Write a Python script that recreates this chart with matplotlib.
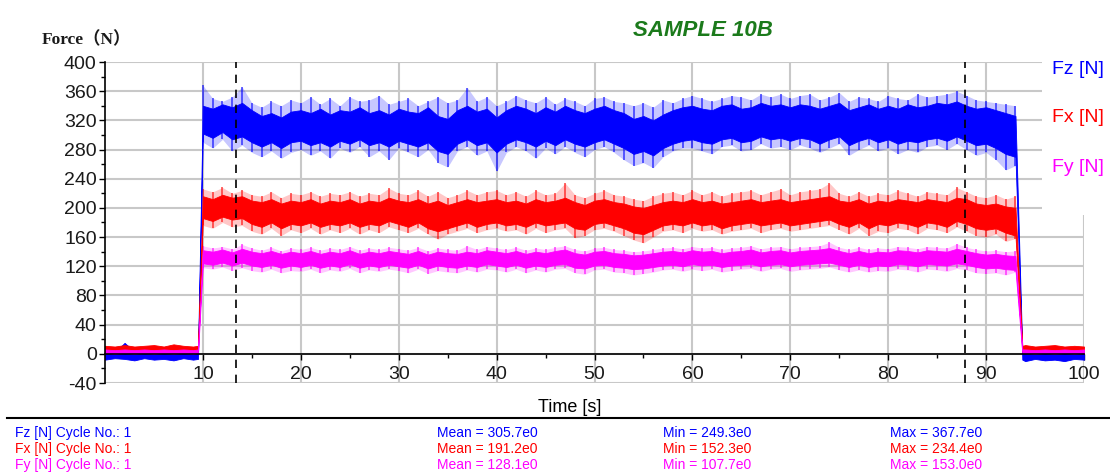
import numpy as np
import matplotlib
matplotlib.use("Agg")
import matplotlib.pyplot as plt
from matplotlib.patches import Rectangle
from matplotlib.ticker import MultipleLocator, FixedLocator

plt.rcParams['font.family'] = ['Liberation Sans', 'DejaVu Sans']
plt.rcParams['axes.unicode_minus'] = False

# sample times (s): idle, ramp up, loaded (1 s steps), ramp down, idle
t_pre = [0, 1, 2, 3, 4, 5, 6, 7, 8, 9, 9.5]
t_load = list(range(10, 94))
t_post = [93.7, 94, 95, 96, 97, 98, 99, 100]

# idle levels (N), hi / lo envelopes
fz_pre_hi = [3, 2, 15, 3, 2, 4, 3, 2, 3, 2, 3]
fz_pre_lo = [-8, -6, -7, -9, -6, -8, -7, -9, -6, -8, -7]
fx_pre_hi = [11, 10, 12, 10, 11, 12, 10, 13, 11, 10, 11]
fx_pre_lo = [4, 3, 4, 3, 4, 3, 4, 3, 4, 3, 4]
fy_pre_hi = [6, 5, 6, 5, 6, 5, 6, 5, 6, 5, 6]
fy_pre_lo = [1, 0, 1, 0, 1, 0, 1, 0, 1, 0, 1]

fz_post_hi = [3, 4, 2, 5, 3, 4, 2, 3]
fz_post_lo = [-8, -10, -7, -9, -8, -10, -7, -8]
fx_post_hi = [11, 12, 10, 11, 12, 10, 11, 10]
fx_post_lo = [3, 4, 3, 4, 3, 4, 3, 4]
fy_post_hi = [6, 6, 5, 6, 5, 6, 5, 6]
fy_post_lo = [1, 1, 0, 1, 0, 1, 0, 1]

# loaded phase, 10..93 s: peak envelope and dense core band
fz_hi = [368, 350, 346, 352, 366, 344, 338, 346, 340, 348,
         344, 352, 342, 350, 340, 352, 346, 348, 354, 342,
         346, 350, 340, 346, 352, 344, 348, 365, 346, 352,
         340, 346, 354, 348, 344, 352, 342, 350, 346, 340,
         350, 352, 346, 344, 340, 344, 338, 348, 344, 350,
         354, 350, 346, 350, 354, 352, 348, 356, 352, 356,
         350, 354, 356, 348, 352, 358, 346, 352, 350, 346,
         354, 350, 348, 356, 352, 354, 356, 360, 354, 348,
         346, 344, 342, 340]
fz_lo = [290, 282, 294, 278, 286, 276, 270, 278, 268, 276,
         280, 272, 278, 268, 282, 276, 284, 270, 278, 266,
         282, 276, 270, 280, 262, 256, 278, 284, 272, 278,
         250, 276, 284, 278, 268, 282, 274, 284, 276, 270,
         280, 284, 276, 266, 258, 262, 255, 270, 278, 282,
         282, 278, 274, 284, 286, 278, 280, 288, 282, 284,
         280, 286, 282, 276, 282, 288, 272, 280, 286, 278,
         282, 274, 280, 276, 284, 286, 280, 288, 280, 272,
         276, 266, 252, 258]
fz_core_hi = [340, 336, 342, 338, 344, 334, 326, 330, 324, 332,
              334, 330, 336, 328, 334, 332, 338, 330, 334, 328,
              336, 332, 330, 338, 326, 322, 334, 340, 332, 336,
              324, 334, 340, 336, 330, 338, 332, 340, 334, 330,
              336, 340, 334, 330, 322, 326, 320, 328, 334, 338,
              340, 336, 334, 340, 342, 336, 338, 344, 340, 342,
              338, 342, 340, 336, 340, 344, 334, 338, 342, 336,
              340, 336, 342, 338, 340, 344, 342, 346, 340, 336,
              338, 334, 330, 326]
fz_core_lo = [302, 296, 304, 294, 298, 290, 284, 290, 282, 290,
              292, 286, 290, 284, 292, 288, 294, 286, 290, 284,
              292, 288, 284, 290, 278, 274, 288, 294, 286, 290,
              276, 288, 294, 290, 284, 292, 286, 294, 288, 284,
              290, 294, 288, 282, 274, 278, 272, 282, 288, 292,
              294, 290, 288, 294, 296, 290, 292, 298, 294, 296,
              292, 296, 294, 288, 294, 298, 286, 292, 296, 290,
              294, 288, 292, 290, 294, 296, 292, 298, 292, 286,
              288, 282, 274, 270]

fx_hi = [226, 222, 228, 220, 224, 218, 216, 222, 214, 220,
         218, 222, 216, 220, 218, 222, 216, 220, 218, 227,
         220, 218, 224, 216, 222, 214, 218, 224, 218, 222,
         224, 218, 222, 216, 224, 218, 220, 234, 218, 214,
         220, 224, 218, 216, 212, 210, 216, 220, 222, 218,
         224, 218, 222, 216, 220, 222, 224, 218, 222, 226,
         218, 222, 224, 226, 234, 220, 216, 222, 216, 220,
         218, 224, 220, 216, 222, 220, 218, 228, 222, 216,
         214, 218, 212, 216]
fx_lo = [176, 172, 180, 174, 176, 168, 164, 172, 162, 170,
         166, 172, 164, 170, 166, 172, 164, 170, 166, 174,
         170, 166, 172, 164, 157, 164, 168, 172, 166, 170,
         172, 168, 170, 164, 172, 166, 170, 172, 159, 162,
         170, 172, 168, 162, 156, 152, 160, 168, 170, 166,
         172, 168, 170, 164, 168, 170, 172, 166, 170, 172,
         168, 170, 172, 174, 176, 170, 164, 172, 162, 168,
         166, 172, 170, 164, 172, 170, 166, 174, 168, 162,
         160, 164, 154, 158]
fx_core_hi = [216, 212, 218, 214, 216, 210, 208, 212, 206, 210,
              208, 212, 206, 210, 208, 212, 206, 210, 208, 214,
              210, 208, 212, 206, 210, 204, 208, 212, 208, 210,
              212, 208, 210, 206, 212, 208, 210, 214, 208, 204,
              210, 212, 208, 206, 202, 200, 204, 208, 210, 208,
              212, 208, 210, 206, 208, 210, 212, 208, 210, 212,
              208, 210, 212, 214, 216, 210, 208, 212, 206, 210,
              208, 212, 210, 208, 212, 210, 208, 214, 212, 206,
              204, 206, 202, 200]
fx_core_lo = [186, 182, 188, 184, 186, 178, 174, 180, 172, 178,
              176, 180, 174, 178, 176, 180, 174, 178, 176, 182,
              178, 174, 180, 172, 168, 172, 176, 180, 174, 178,
              180, 176, 178, 174, 180, 176, 178, 180, 172, 170,
              178, 180, 176, 172, 166, 164, 170, 176, 178, 176,
              180, 176, 178, 172, 176, 178, 180, 176, 178, 180,
              176, 178, 180, 182, 184, 178, 174, 180, 172, 178,
              176, 180, 178, 174, 180, 178, 174, 182, 178, 172,
              170, 172, 166, 162]

fy_hi = [148, 145, 147, 144, 150, 145, 142, 146, 141, 145,
         143, 146, 142, 145, 143, 147, 142, 145, 143, 146,
         144, 142, 146, 141, 145, 143, 142, 148, 143, 147,
         145, 143, 146, 142, 145, 143, 146, 148, 143, 141,
         145, 146, 143, 142, 140, 141, 143, 145, 146, 144,
         147, 145, 146, 143, 145, 146, 148, 144, 146, 147,
         144, 146, 147, 148, 153, 146, 143, 146, 143, 145,
         144, 147, 146, 144, 147, 146, 145, 151, 146, 143,
         141, 142, 140, 141]
fy_lo = [118, 116, 119, 114, 118, 114, 112, 116, 111, 114,
         113, 116, 111, 115, 113, 117, 111, 115, 113, 116,
         114, 111, 116, 110, 114, 112, 111, 115, 112, 116,
         115, 112, 116, 111, 115, 112, 116, 117, 111, 109,
         115, 116, 112, 111, 108, 110, 112, 115, 116, 113,
         116, 114, 116, 112, 114, 116, 117, 113, 116, 117,
         113, 115, 116, 117, 119, 115, 112, 115, 112, 114,
         113, 116, 115, 112, 116, 115, 113, 117, 115, 111,
         110, 111, 108, 112]
fy_core_hi = [142, 140, 143, 139, 144, 140, 138, 141, 137, 140,
              138, 141, 137, 140, 138, 142, 137, 140, 138, 141,
              139, 137, 141, 136, 140, 138, 137, 140, 138, 142,
              140, 138, 141, 137, 140, 138, 141, 143, 138, 136,
              140, 141, 138, 137, 135, 136, 138, 140, 141, 139,
              142, 140, 141, 138, 140, 141, 143, 139, 141, 142,
              139, 141, 142, 143, 145, 141, 138, 141, 138, 140,
              139, 142, 141, 139, 142, 141, 140, 144, 141, 138,
              136, 137, 135, 134]
fy_core_lo = [124, 122, 125, 121, 125, 121, 119, 122, 118, 121,
              119, 122, 118, 121, 119, 123, 118, 121, 119, 122,
              120, 118, 122, 117, 121, 119, 118, 121, 119, 123,
              121, 119, 122, 118, 121, 119, 122, 123, 118, 117,
              121, 122, 119, 118, 116, 117, 119, 121, 122, 120,
              123, 121, 122, 119, 121, 122, 123, 120, 122, 123,
              120, 122, 123, 124, 125, 122, 119, 122, 119, 121,
              120, 123, 122, 120, 123, 122, 121, 124, 122, 119,
              117, 118, 116, 115]

cursor_times = [13.4, 87.8]

names = ['Fz [N]', 'Fx [N]', 'Fy [N]']
colors = ['#0000ff', '#ff0000', '#ff00ff']
means = ['305.7e0', '191.2e0', '128.1e0']
mins = ['249.3e0', '152.3e0', '107.7e0']
maxs = ['367.7e0', '234.4e0', '153.0e0']

series = [
    (fz_pre_hi, fz_pre_lo, fz_hi, fz_lo, fz_core_hi, fz_core_lo, fz_post_hi, fz_post_lo),
    (fx_pre_hi, fx_pre_lo, fx_hi, fx_lo, fx_core_hi, fx_core_lo, fx_post_hi, fx_post_lo),
    (fy_pre_hi, fy_pre_lo, fy_hi, fy_lo, fy_core_hi, fy_core_lo, fy_post_hi, fy_post_lo),
]

W, H = 1110, 473
fig = plt.figure(figsize=(W / 100, H / 100), dpi=100)
ax = fig.add_axes([105 / W, 1 - 383 / H, (1084 - 105) / W, (383 - 62) / H])

t_all = np.array(t_pre + t_load + t_post)
for (ph, pl, hi, lo, ch, cl, qh, ql), c in zip(series, colors):
    outer_hi = np.array(ph + hi + qh)
    outer_lo = np.array(pl + lo + ql)
    core_hi = np.array(ph + ch + qh)
    core_lo = np.array(pl + cl + ql)
    # faint peak envelope, thin peak strokes, then the dense core
    ax.fill_between(t_all, outer_lo, outer_hi, color=c, alpha=0.22, lw=0, zorder=2)
    ax.vlines(t_load, lo, hi, color=c, lw=1.1, alpha=0.75, zorder=2.05)
    ax.fill_between(t_all, core_lo, core_hi, color=c, lw=0.6, edgecolor=c, zorder=2.1)

for ct in cursor_times:
    ax.axvline(ct, color='black', lw=1.2, ls=(0, (5, 4)), zorder=3)

ax.set_xlim(0, 100)
ax.set_ylim(-40, 400)
ax.xaxis.set_major_locator(FixedLocator(range(10, 101, 10)))
ax.xaxis.set_minor_locator(FixedLocator(range(5, 100, 10)))
ax.yaxis.set_major_locator(MultipleLocator(40))
ax.yaxis.set_minor_locator(MultipleLocator(20))
ax.set_axisbelow(True)
ax.grid(True, which='major', color='#c8c8c8', lw=1.5)

for s in ['top', 'right']:
    ax.spines[s].set_visible(False)
ax.spines['bottom'].set_position(('data', 0))
ax.spines['left'].set_linewidth(1.2)
ax.spines['bottom'].set_linewidth(1.2)
ax.tick_params(axis='both', which='major', labelsize=14, length=4, width=1, colors='black')
ax.tick_params(axis='both', which='minor', length=3, width=1)
ax.tick_params(axis='y', pad=2)
ax.tick_params(axis='x', pad=5)
for lab in ax.get_xticklabels() + ax.get_yticklabels():
    lab.set_color('#1a1a1a')

# white box behind the channel labels hides the grid at top right
ax.add_patch(Rectangle((95.7, 190), 10, 220, facecolor='white', edgecolor='none',
                       zorder=1, clip_on=False))

fig.text(633 / W, 1 - 30 / H, 'SAMPLE 10B', color='#1b7a1b', fontsize=16,
         fontweight='bold', fontstyle='italic', va='center', ha='left')
fig.text(42 / W, 1 - 40 / H, 'Force（N）', family=['Liberation Serif', 'Noto Sans CJK SC'],
         fontsize=12.5, fontweight='bold', va='center', ha='left', color='#1a1a1a')
for name, c, y in zip(names, colors, [69, 117, 167]):
    fig.text(1052 / W, 1 - y / H, name, color=c, fontsize=14, va='center', ha='left')

fig.text(570 / W, 1 - 407 / H, 'Time [s]', fontsize=13, ha='center', va='center')
fig.add_artist(plt.Line2D([7 / W, 1], [1 - 418 / H, 1 - 418 / H], color='black', lw=1.5))

for i, (name, c) in enumerate(zip(names, colors)):
    y = 1 - (433 + 15.8 * i) / H
    fig.text(15 / W, y, f'{name} Cycle No.: 1', color=c, fontsize=10, va='center')
    fig.text(437 / W, y, f'Mean = {means[i]}', color=c, fontsize=10, va='center')
    fig.text(663 / W, y, f'Min = {mins[i]}', color=c, fontsize=10, va='center')
    fig.text(890 / W, y, f'Max = {maxs[i]}', color=c, fontsize=10, va='center')

fig.savefig('out.png', dpi=100)
